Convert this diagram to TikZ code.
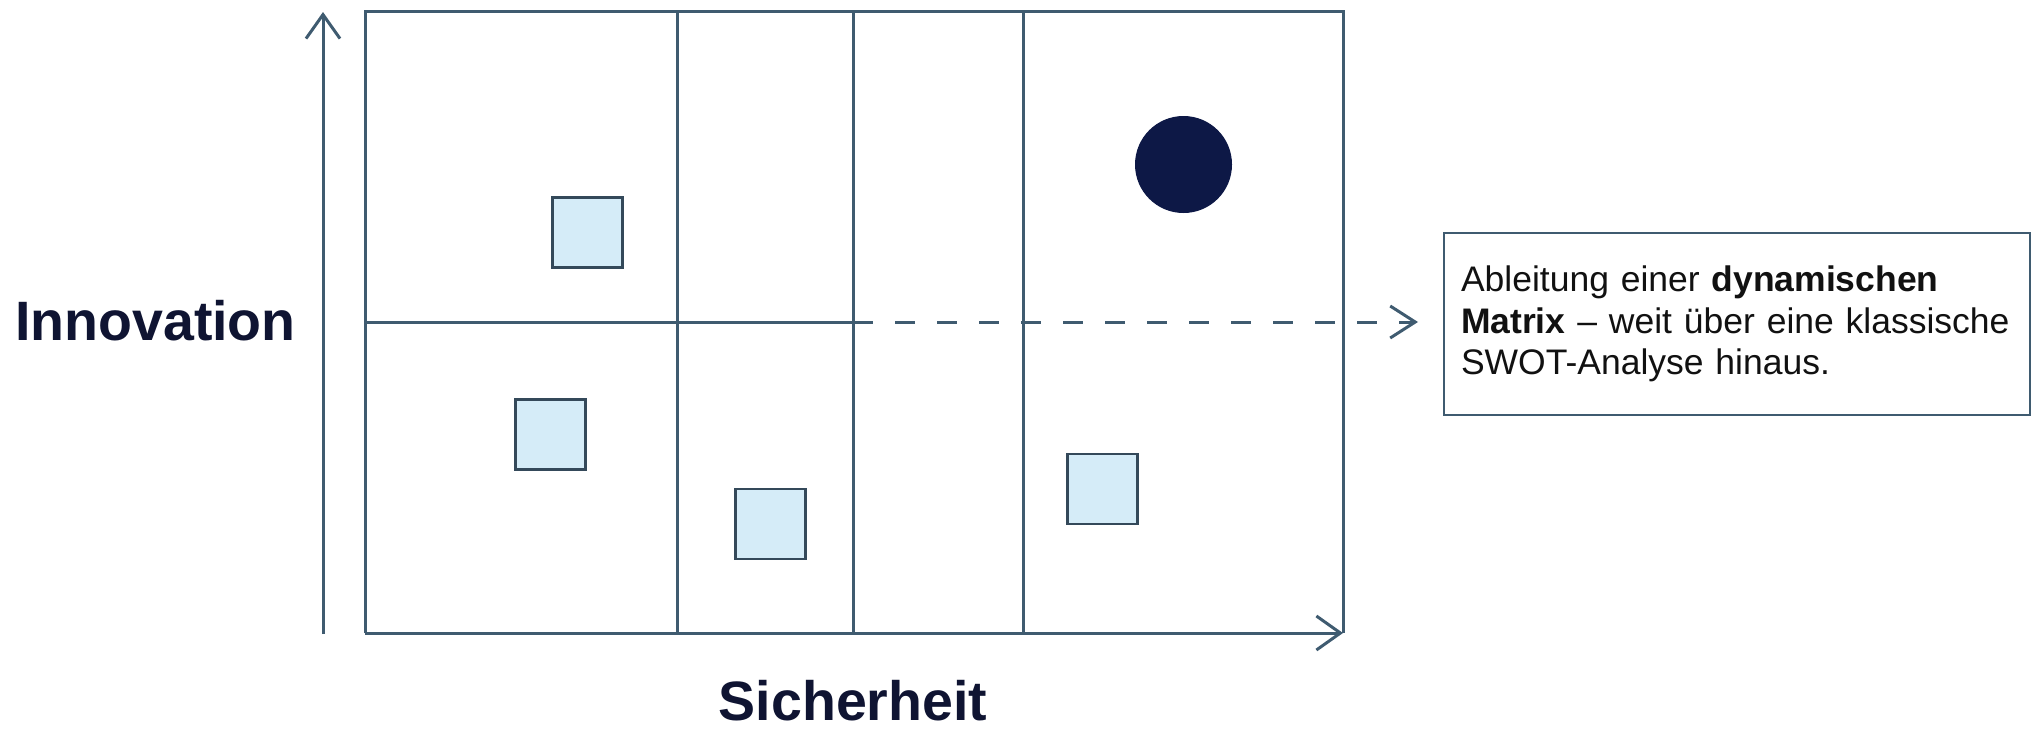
\documentclass[tikz,border=0pt]{standalone}
\usepackage{fontspec}
\setmainfont{Liberation Sans}
\usetikzlibrary{arrows.meta}
\definecolor{gridc}{HTML}{3F5B70}
\definecolor{sqfill}{HTML}{D5ECF8}
\definecolor{sqline}{HTML}{34495A}
\definecolor{dotc}{HTML}{0D1846}
\definecolor{labc}{HTML}{0F1432}
\definecolor{txtc}{HTML}{111111}
\newcommand{\nohyphens}{\hyphenpenalty=10000\relax\exhyphenpenalty=10000\relax}
\tikzset{
  gridline/.style={draw=gridc, line width=3pt},
  axis/.style={draw=gridc, line width=3pt, -{Straight Barb[length=24pt,width=34pt]}},
  dasharrow/.style={draw=gridc, line width=3pt, dash pattern=on 20pt off 22pt, -{Straight Barb[length=25pt,width=32pt]}},
  marker/.style={draw=sqline, fill=sqfill, line width=2.5pt, minimum size=70pt, inner sep=0pt},
  dot/.style={circle, fill=dotc, minimum size=97pt, inner sep=0pt},
  axislabel/.style={text=labc, font=\fontsize{55.5}{66}\selectfont\bfseries, inner sep=0pt},
  infobox/.style={draw=gridc, line width=2.5pt, minimum width=586pt, minimum height=182pt,
    text width=552pt, inner xsep=17pt, align=left, text=txtc,
    font=\fontsize{35.5}{41.5}\selectfont}
}
\begin{document}
\begin{tikzpicture}[x=1pt,y=-1pt]
\useasboundingbox (0,0) rectangle (2038,729);
% grid
\coordinate (bl) at (365,633);
\coordinate (tl) at (365,11);
\coordinate (tr) at (1343,11);
\coordinate (br) at (1343,633);
\draw[gridline] (bl) -- (tl) -- (tr) -- (br);
\draw[gridline] (677,11) -- (677,633);
\draw[gridline] (853,11) -- (853,633);
\draw[gridline] (1023,11) -- (1023,633);
\coordinate (hl) at (365,322);
\coordinate (hm) at (853,322);
\draw[gridline] (hl) -- (hm);
% axes
\coordinate (ybot) at (323,634);
\coordinate (ytop) at (323,12);
\draw[axis] (ybot) -- (ytop);
\draw[axis] (bl) -- (br);
% markers
\node[marker] (s1) at (587.5,232.5) {};
\node[marker] (s2) at (550.5,434.5) {};
\node[marker] (s3) at (770.5,524) {};
\node[marker] (s4) at (1102.5,489) {};
\node[dot] (c1) at (1183.5,164.5) {};
% info box
\node[infobox] (box) at (1737,324) {\nohyphens Ableitung einer \textbf{dynamischen}\\ \textbf{Matrix} -- weit über eine klassische\\ SWOT-Analyse hinaus.};
\coordinate (dend) at (1418,322);
\draw[dasharrow] (hm) -- (dend);
% labels
\node[axislabel, anchor=base west] (inno) at (15,340) {Innovation};
\node[axislabel, anchor=base] (sich) at (853,720) {Sicherheit};
\end{tikzpicture}
\end{document}
